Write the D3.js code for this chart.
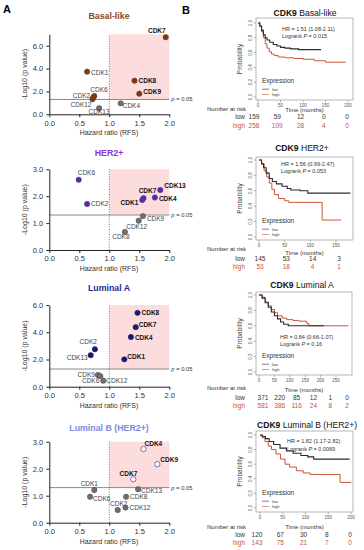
<!DOCTYPE html>
<html>
<head>
<meta charset="utf-8">
<script src="https://cdn.jsdelivr.net/npm/d3@7"></script>
<style>
  body { margin: 0; background: #fff; }
  svg { display: block; }
  text { font-family: "Liberation Sans", Arial, sans-serif; }
</style>
</head>
<body>
<svg id="fig" width="364" height="550"></svg>
<script>
// ---- panel A data: hazard ratio vs -log10(p) per CDK ----
const basalGenes = ["CDK7", "CDK1", "CDK8", "CDK9", "CDK6", "CDK2", "CDK12", "CDK13", "CDK4"];
const basalHR = [1.94, 0.63, 1.42, 1.5, 0.75, 0.73, 0.72, 0.83, 1.19];
const basalLogP = [6.74, 3.73, 2.94, 1.8, 1.6, 1.45, 1.32, 0.53, 0.96];

const her2Genes = ["CDK6", "CDK2", "CDK7", "CDK1", "CDK13", "CDK4", "CDK9", "CDK12", "CDK8"];
const her2HR = [0.49, 0.63, 1.57, 1.55, 1.85, 1.76, 1.56, 1.49, 1.26];
const her2LogP = [2.61, 1.71, 1.93, 1.86, 2.23, 1.95, 1.26, 1.09, 0.67];

const lumAGenes = ["CDK8", "CDK7", "CDK4", "CDK1", "CDK2", "CDK13", "CDK9", "CDK6", "CDK12"];
const lumAHR = [1.47, 1.44, 1.36, 1.25, 0.76, 0.69, 0.81, 0.85, 0.9];
const lumALogP = [5.43, 4.38, 3.65, 2.01, 2.75, 2.32, 0.86, 0.78, 0.44];

const lumBGenes = ["CDK4", "CDK9", "CDK7", "CDK1", "CDK13", "CDK6", "CDK8", "CDK2", "CDK12"];
const lumBHR = [1.57, 1.8, 1.4, 0.75, 1.48, 0.68, 1.28, 1.14, 1.27];
const lumBLogP = [2.73, 2.17, 1.61, 1.21, 1.24, 0.96, 0.96, 0.47, 0.56];

const hrTicks = [0, 0.5, 1, 1.5, 2];
const sigLogP = 1.3; // -log10(0.05)

// ---- panel B data: Kaplan-Meier steps [months, probability] ----
const basalLow = [[0,1],[4,0.96],[8,0.9],[12,0.84],[16,0.8],[20,0.77],[26,0.74],[34,0.71],[42,0.69],[50,0.67],[60,0.66],[72,0.65],[90,0.64],[140,0.64]];
const basalHigh = [[0,1],[4,0.95],[8,0.88],[12,0.8],[16,0.72],[20,0.66],[25,0.61],[30,0.58],[36,0.56],[45,0.54],[60,0.53],[80,0.52],[100,0.51],[125,0.49],[150,0.47],[195,0.47]];
const her2Low = [[0,1],[5,0.95],[9,0.9],[14,0.83],[20,0.76],[26,0.72],[34,0.69],[45,0.66],[55,0.63],[62,0.61],[80,0.6],[95,0.57],[178,0.57]];
const her2High = [[0,1],[5,0.95],[10,0.86],[15,0.78],[20,0.7],[25,0.62],[30,0.55],[38,0.5],[50,0.47],[58,0.45],[123,0.45],[123,0.22],[160,0.22]];
const lumALow = [[0,1],[10,0.96],[20,0.9],[30,0.84],[40,0.78],[50,0.73],[60,0.69],[70,0.65],[80,0.62],[95,0.6],[210,0.6]];
const lumAHigh = [[0,1],[10,0.97],[20,0.91],[30,0.86],[40,0.81],[50,0.77],[60,0.73],[75,0.7],[90,0.68],[110,0.67],[130,0.66],[155,0.63],[162,0.6],[290,0.6]];
const lumBLow = [[0,1],[5,0.98],[12,0.95],[20,0.91],[30,0.87],[44,0.82],[58,0.78],[73,0.75],[90,0.72],[105,0.7],[118,0.67],[197,0.67]];
const lumBHigh = [[0,1],[5,0.96],[11,0.91],[18,0.85],[25,0.8],[35,0.74],[45,0.67],[55,0.6],[65,0.56],[80,0.51],[95,0.48],[110,0.46],[176,0.46],[176,0.35],[200,0.35]];

const basalRiskLow = [159, 59, 12, 0, 0], basalRiskHigh = [258, 109, 28, 4, 0];
const her2RiskLow = [145, 53, 14, 3], her2RiskHigh = [53, 18, 4, 1];
const lumARiskLow = [371, 220, 85, 12, 1, 0], lumARiskHigh = [581, 386, 116, 24, 8, 2];
const lumBRiskLow = [120, 67, 30, 8, 0], lumBRiskHigh = [143, 75, 21, 7, 0];

const kmSubtypes = ["Basal-like", "HER2+", "Luminal A", "Luminal B (HER2+)"];
const kmHR = ["HR = 1.51 (1.08-2.11)", "HR = 1.56 (0.99-2.47)", "HR = 0.84 (0.66-1.07)", "HR = 1.82 (1.17-2.82)"];
const kmLogrank = ["0.015", "0.053", "0.16", "0.0069"];
const probTicks = [0, 0.2, 0.4, 0.6, 0.8, 1];

const svg = d3.select("#fig");
const KM_LOW = "#2a2a2a", KM_HIGH = "#c8553a";

const zip = (genes, hr, lp) => genes.map((g, i) => ({ gene: g, hr: hr[i], lp: lp[i] }));

// ---- layout of panel A ----
const volcanoPanels = [
    { title: "Basal-like", titleColor: "#8b4a1c", titleY: 19, y0: 114.3, ppu: 11.43, yMax: 7, ticks: [0, 2, 4, 6],
      color: "#7a3a14", open: false, data: zip(basalGenes, basalHR, basalLogP),
      labels: { CDK7: ["end", 0, -4], CDK1: ["start", 4, 3], CDK8: ["start", 4, 2.5], CDK9: ["start", 4, 0],
                CDK6: ["start", -4, -4], CDK2: ["end", -3, 0], CDK12: ["end", -1, 8], CDK13: ["middle", 0, 5.5], CDK4: ["start", 2, 5] } },
    { title: "HER2+", titleColor: "#8a35d8", titleY: 156, y0: 250, ppu: 26.9, yMax: 3, ticks: [0, 1, 2, 3],
      color: "#5a2ca0", open: false, data: zip(her2Genes, her2HR, her2LogP),
      labels: { CDK6: ["start", -1, -5], CDK2: ["start", 4, 2], CDK7: ["middle", 4, -5], CDK1: ["end", -4, 5],
                CDK13: ["start", 4, -2], CDK4: ["start", 4, 3], CDK9: ["start", 4, 5], CDK12: ["middle", -2, 8], CDK8: ["middle", -4, 7] } },
    { title: "Luminal A", titleColor: "#1f2c96", titleY: 291, y0: 386.7, ppu: 13.6, yMax: 6, ticks: [0, 2, 4, 6],
      color: "#1b1b6e", open: false, data: zip(lumAGenes, lumAHR, lumALogP),
      labels: { CDK8: ["start", 4, 2], CDK7: ["start", 3, 0], CDK4: ["start", 4, 3], CDK1: ["start", 3, 0],
                CDK2: ["end", 2, -5], CDK13: ["end", -3, 5], CDK9: ["end", -3, 2], CDK6: ["end", -1, 7], CDK12: ["start", 3, 2] } },
    { title: "Luminal B (HER2+)", titleColor: "#7b8ae0", titleY: 431, y0: 522.7, ppu: 27, yMax: 3, ticks: [0, 1, 2, 3],
      color: "#7d6cb0", open: true, data: zip(lumBGenes, lumBHR, lumBLogP),
      labels: { CDK4: ["start", 1, -3], CDK9: ["start", 3, -2], CDK7: ["end", 4, -3], CDK1: ["middle", -5, -4],
                CDK13: ["start", 3, 4], CDK6: ["start", 3, 4], CDK8: ["start", 4, 2], CDK2: ["middle", 1, -4], CDK12: ["start", 4, 2] } },
];

const styleAxis = (sel, fs) => {
    sel.select(".domain").attr("stroke", "#222").attr("stroke-width", 1);
    sel.selectAll(".tick line").attr("stroke", "#222");
    sel.selectAll(".tick text").attr("fill", "#333").style("font-size", fs + "px");
};

const drawVolcano = (p) => {
    const x = d3.scaleLinear().domain([0, 2]).range([49.3, 169.3]);
    const y = d3.scaleLinear().domain([0, p.yMax]).range([p.y0, p.y0 - p.yMax * p.ppu]);
    const g = svg.append("g");

    g.append("rect")
        .attr("x", x(1)).attr("y", y(p.yMax))
        .attr("width", x(2) - x(1)).attr("height", y(sigLogP) - y(p.yMax))
        .attr("fill", "#fcdcdc");

    g.append("line")
        .attr("x1", x(0)).attr("x2", x(2))
        .attr("y1", y(sigLogP)).attr("y2", y(sigLogP))
        .attr("stroke", "#8a8a8a").attr("stroke-width", 1);

    g.append("line")
        .attr("x1", x(1)).attr("x2", x(1))
        .attr("y1", y(0)).attr("y2", y(p.yMax))
        .attr("stroke", "#555").attr("stroke-width", 0.8)
        .attr("stroke-dasharray", "1,1.5");

    const pText = g.append("text")
        .attr("x", x(2) + 2).attr("y", y(sigLogP) + 2)
        .style("font-size", "5.8px").attr("fill", "#333");
    pText.append("tspan").style("font-style", "italic").text("p");
    pText.append("tspan").text(" = 0.05");

    g.append("g")
        .attr("transform", `translate(0,${p.y0})`)
        .call(d3.axisBottom(x).tickValues(hrTicks).tickFormat(d3.format(".1f")).tickSize(3).tickSizeOuter(0))
        .call((s) => styleAxis(s, 7.5));

    g.append("g")
        .attr("transform", `translate(${x(0)},0)`)
        .call(d3.axisLeft(y).tickValues(p.ticks).tickSize(3).tickSizeOuter(0))
        .call((s) => styleAxis(s, 7.5));

    g.append("text")
        .attr("x", 109).attr("y", p.y0 + 21)
        .attr("text-anchor", "middle")
        .style("font-size", "7px").attr("fill", "#333")
        .text("Hazard ratio  (RFS)");

    g.append("text")
        .attr("transform", `translate(27,${(p.y0 + y(p.yMax)) / 2}) rotate(-90)`)
        .attr("text-anchor", "middle")
        .style("font-size", "7px").attr("fill", "#333")
        .text("-Log10 (p value)");

    g.append("text")
        .attr("x", 109).attr("y", p.titleY)
        .attr("text-anchor", "middle")
        .style("font-size", "8.8px").style("font-weight", "bold")
        .attr("fill", p.titleColor)
        .text(p.title);

    const isHit = (d) => d.hr > 1 && d.lp > sigLogP;
    const isSig = (d) => d.lp > sigLogP;

    g.selectAll("circle.pt")
        .data(p.data)
        .join("circle")
        .attr("class", "pt")
        .attr("cx", (d) => x(d.hr))
        .attr("cy", (d) => y(d.lp))
        .attr("r", 2.7)
        .attr("fill", (d) => (isSig(d) ? (p.open ? "#fff" : p.color) : "#6f6f6f"))
        .attr("stroke", (d) => (isSig(d) ? p.color : "#444"))
        .attr("stroke-width", (d) => (isSig(d) && p.open ? 1 : 0.5));

    g.selectAll("text.lbl")
        .data(p.data)
        .join("text")
        .attr("class", "lbl")
        .attr("x", (d) => x(d.hr) + p.labels[d.gene][1])
        .attr("y", (d) => y(d.lp) + p.labels[d.gene][2])
        .attr("text-anchor", (d) => p.labels[d.gene][0])
        .style("font-size", "6.5px")
        .style("font-weight", (d) => (isHit(d) ? "bold" : "normal"))
        .attr("fill", (d) => (isHit(d) ? "#111" : "#444"))
        .text((d) => d.gene);
};

volcanoPanels.forEach(drawVolcano);

// ---- layout of panel B ----
const kmPanels = [
    { box: [256, 353, 18, 100], tMax: 200, tx: [258, 348], py: [97, 23], tTicks: [0, 50, 100, 150, 200],
      low: basalLow, high: basalHigh, riskLow: basalRiskLow, riskHigh: basalRiskHigh, riskX: [254, 347],
      titleX: 305, titleY: 16, hrX: 282, hrY: 30.5, timeY: 111.5, riskY: [110.5, 119, 127.5] },
    { box: [256, 353, 157, 240], tMax: 150, tx: [259, 336], py: [237, 160], tTicks: [0, 50, 100, 150],
      low: her2Low, high: her2High, riskLow: her2RiskLow, riskHigh: her2RiskHigh, riskX: [260, 339],
      titleX: 302, titleY: 151, hrX: 281, hrY: 165.5, timeY: 255, riskY: [251, 260.5, 269] },
    { box: [256, 352, 292, 375], tMax: 250, tx: [259, 336], py: [372, 295], tTicks: [0, 50, 100, 150, 200, 250],
      low: lumALow, high: lumAHigh, riskLow: lumARiskLow, riskHigh: lumARiskHigh, riskX: [263, 347],
      titleX: 302, titleY: 288, hrX: 280, hrY: 338.7, timeY: 391.5, riskY: [389.5, 399.5, 408] },
    { box: [256, 353, 431, 512], tMax: 200, tx: [260, 351], py: [508, 435], tTicks: [0, 50, 100, 150, 200],
      low: lumBLow, high: lumBHigh, riskLow: lumBRiskLow, riskHigh: lumBRiskHigh, riskX: [257, 350],
      titleX: 307, titleY: 428, hrX: 287, hrY: 443, timeY: 529, riskY: [529, 537, 545] },
];

const drawKM = (p, i) => {
    const [bx0, bx1, by0, by1] = p.box;
    const x = d3.scaleLinear().domain([0, p.tMax]).range(p.tx);
    const y = d3.scaleLinear().domain([0, 1]).range(p.py);
    const g = svg.append("g");

    g.append("rect")
        .attr("x", bx0).attr("y", by0)
        .attr("width", bx1 - bx0).attr("height", by1 - by0)
        .attr("fill", "none").attr("stroke", "#999").attr("stroke-width", 0.7);

    // y ticks (rotated labels, R style)
    g.selectAll("line.yt").data(probTicks).join("line")
        .attr("x1", bx0 - 2.5).attr("x2", bx0)
        .attr("y1", (d) => y(d)).attr("y2", (d) => y(d))
        .attr("stroke", "#777").attr("stroke-width", 0.5);
    g.selectAll("text.yt").data(probTicks).join("text")
        .attr("transform", (d) => `translate(${bx0 - 4.5},${y(d)}) rotate(-90)`)
        .attr("text-anchor", "middle")
        .style("font-size", "4.5px").attr("fill", "#555")
        .text(d3.format(".1f"));

    g.selectAll("line.xt").data(p.tTicks).join("line")
        .attr("x1", (d) => x(d)).attr("x2", (d) => x(d))
        .attr("y1", by1).attr("y2", by1 + 2.5)
        .attr("stroke", "#777").attr("stroke-width", 0.5);
    g.selectAll("text.xt").data(p.tTicks).join("text")
        .attr("x", (d) => x(d)).attr("y", by1 + 7)
        .attr("text-anchor", "middle")
        .style("font-size", "4.5px").attr("fill", "#555")
        .text((d) => d);

    g.append("text")
        .attr("transform", `translate(${bx0 - 14},${(by0 + by1) / 2}) rotate(-90)`)
        .attr("text-anchor", "middle")
        .style("font-size", "6.5px").attr("fill", "#444")
        .text("Probability");

    const line = d3.line().x((d) => x(d[0])).y((d) => y(d[1])).curve(d3.curveStepAfter);
    g.append("path").attr("d", line(p.high)).attr("fill", "none")
        .attr("stroke", KM_HIGH).attr("stroke-width", 1);
    g.append("path").attr("d", line(p.low)).attr("fill", "none")
        .attr("stroke", KM_LOW).attr("stroke-width", 1.1);

    // HR and logrank
    g.append("text").attr("x", p.hrX).attr("y", p.hrY)
        .style("font-size", "5.5px").attr("fill", "#333").text(kmHR[i]);
    const lr = g.append("text").attr("x", p.hrX).attr("y", p.hrY + 7.5)
        .style("font-size", "5.5px").attr("fill", "#333");
    lr.append("tspan").text("Logrank ");
    lr.append("tspan").style("font-style", "italic").text("P");
    lr.append("tspan").text(" = " + kmLogrank[i]);

    // legend
    g.append("text").attr("x", 262).attr("y", by1 - 17.5)
        .style("font-size", "6.5px").attr("fill", "#333").text("Expression");
    [["low", KM_LOW, by1 - 10.8], ["high", KM_HIGH, by1 - 5.5]].forEach(([lab, col, ly]) => {
        g.append("line").attr("x1", 262).attr("x2", 269).attr("y1", ly).attr("y2", ly)
            .attr("stroke", col).attr("stroke-width", 0.6);
        g.append("text").attr("x", 272).attr("y", ly + 1.5)
            .style("font-size", "4px").attr("fill", "#444").text(lab);
    });

    // title
    const t = g.append("text").attr("x", p.titleX).attr("y", p.titleY)
        .attr("text-anchor", "middle").style("font-size", "8.6px").attr("fill", "#111");
    t.append("tspan").style("font-weight", "bold").text("CDK9");
    t.append("tspan").text(" " + kmSubtypes[i]);

    g.append("text").attr("x", bx0 + (bx1 - bx0) / 2).attr("y", p.timeY)
        .attr("text-anchor", "middle").style("font-size", "6px").attr("fill", "#333")
        .text("Time (months)");

    // number at risk table
    const rx = d3.scalePoint().domain(d3.range(p.riskLow.length)).range(p.riskX);
    g.append("text").attr("x", 207).attr("y", p.riskY[0])
        .style("font-size", "6px").attr("fill", "#333").text("Number at risk");
    g.append("text").attr("x", 245).attr("y", p.riskY[1]).attr("text-anchor", "end")
        .style("font-size", "6.5px").attr("fill", "#333").text("low");
    g.append("text").attr("x", 245).attr("y", p.riskY[2]).attr("text-anchor", "end")
        .style("font-size", "6.5px").attr("fill", KM_HIGH).text("high");
    g.selectAll("text.rl").data(p.riskLow).join("text")
        .attr("x", (d, j) => rx(j)).attr("y", p.riskY[1])
        .attr("text-anchor", "middle").style("font-size", "6.5px").attr("fill", "#333")
        .text((d) => d);
    g.selectAll("text.rh").data(p.riskHigh).join("text")
        .attr("x", (d, j) => rx(j)).attr("y", p.riskY[2])
        .attr("text-anchor", "middle").style("font-size", "6.5px").attr("fill", KM_HIGH)
        .text((d) => d);
};

kmPanels.forEach(drawKM);

svg.append("text").attr("x", 3).attr("y", 13)
    .style("font-size", "11px").style("font-weight", "bold").text("A");
svg.append("text").attr("x", 182).attr("y", 14)
    .style("font-size", "11px").style("font-weight", "bold").text("B");
</script>
</body>
</html>
